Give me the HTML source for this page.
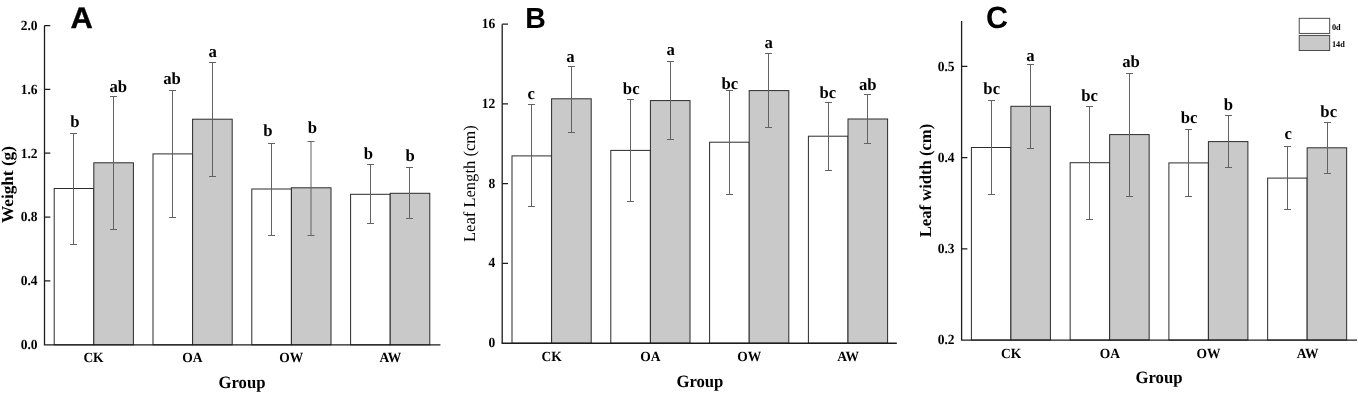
<!DOCTYPE html>
<html lang="en"><head><meta charset="utf-8"><title>Figure</title>
<style>html,body{margin:0;padding:0;background:#fff}svg{display:block;filter:grayscale(1)}text{text-rendering:geometricPrecision}.s{font-family:"Liberation Serif", "DejaVu Serif", serif}.a{font-family:"Liberation Sans", "DejaVu Sans", sans-serif}</style></head><body>
<svg width="1358" height="393" viewBox="0 0 1358 393">
<rect x="0" y="0" width="1358" height="393" fill="#ffffff"/>
<g>
<g id="panel-A">
<rect x="54.20" y="188.50" width="39.60" height="156.30" fill="#ffffff" stroke="#2b2b2b" stroke-width="1"/>
<rect x="93.80" y="162.80" width="39.60" height="182.00" fill="#c9c9c9" stroke="#2b2b2b" stroke-width="1"/>
<rect x="153.00" y="153.90" width="39.60" height="190.90" fill="#ffffff" stroke="#2b2b2b" stroke-width="1"/>
<rect x="192.60" y="119.20" width="39.60" height="225.60" fill="#c9c9c9" stroke="#2b2b2b" stroke-width="1"/>
<rect x="251.80" y="189.00" width="39.60" height="155.80" fill="#ffffff" stroke="#2b2b2b" stroke-width="1"/>
<rect x="291.40" y="187.80" width="39.60" height="157.00" fill="#c9c9c9" stroke="#2b2b2b" stroke-width="1"/>
<rect x="350.60" y="194.30" width="39.60" height="150.50" fill="#ffffff" stroke="#2b2b2b" stroke-width="1"/>
<rect x="390.20" y="193.30" width="39.60" height="151.50" fill="#c9c9c9" stroke="#2b2b2b" stroke-width="1"/>
<path d="M73.50 133.00V245.00M70.00 133.50h7M70.00 244.50h7" fill="none" stroke="#626262" stroke-width="1"/>
<path d="M113.50 96.00V230.00M110.00 96.50h7M110.00 229.50h7" fill="none" stroke="#626262" stroke-width="1"/>
<path d="M172.50 90.00V218.00M169.00 90.50h7M169.00 217.50h7" fill="none" stroke="#626262" stroke-width="1"/>
<path d="M212.50 62.00V177.00M209.00 62.50h7M209.00 176.50h7" fill="none" stroke="#626262" stroke-width="1"/>
<path d="M271.50 143.00V236.00M268.00 143.50h7M268.00 235.50h7" fill="none" stroke="#626262" stroke-width="1"/>
<path d="M311.00 141.00V236.00M307.50 141.50h7M307.50 235.50h7" fill="none" stroke="#626262" stroke-width="1"/>
<path d="M370.50 164.00V224.00M367.00 164.50h7M367.00 223.50h7" fill="none" stroke="#626262" stroke-width="1"/>
<path d="M409.50 167.00V219.00M406.00 167.50h7M406.00 218.50h7" fill="none" stroke="#626262" stroke-width="1"/>
<path d="M44.50 25.55V344.80" fill="none" stroke="#1c1c1c" stroke-width="1.3"/>
<path d="M43.85 344.80H440.40" fill="none" stroke="#1c1c1c" stroke-width="1.3"/>
<path d="M44.50 280.86h5.8M44.50 217.07h5.8M44.50 153.18h5.8M44.50 89.39h5.8M44.50 25.60h5.8" fill="none" stroke="#1c1c1c" stroke-width="1.25"/>
<text class="s" transform="translate(37.60 348.80) scale(1 1.04)" font-size="13.5" font-weight="bold" text-anchor="end" fill="#000">0.0</text>
<text class="s" transform="translate(37.60 285.10) scale(1 1.04)" font-size="13.5" font-weight="bold" text-anchor="end" fill="#000">0.4</text>
<text class="s" transform="translate(37.60 221.40) scale(1 1.04)" font-size="13.5" font-weight="bold" text-anchor="end" fill="#000">0.8</text>
<text class="s" transform="translate(37.60 157.60) scale(1 1.04)" font-size="13.5" font-weight="bold" text-anchor="end" fill="#000">1.2</text>
<text class="s" transform="translate(37.60 93.90) scale(1 1.04)" font-size="13.5" font-weight="bold" text-anchor="end" fill="#000">1.6</text>
<text class="s" transform="translate(37.60 30.20) scale(1 1.04)" font-size="13.5" font-weight="bold" text-anchor="end" fill="#000">2.0</text>
<text class="s" transform="translate(93.50 362.20) scale(1 1.04)" font-size="13.5" font-weight="bold" text-anchor="middle" fill="#000">CK</text>
<text class="s" transform="translate(192.40 362.20) scale(1 1.04)" font-size="13.5" font-weight="bold" text-anchor="middle" fill="#000">OA</text>
<text class="s" transform="translate(291.20 362.20) scale(1 1.04)" font-size="13.5" font-weight="bold" text-anchor="middle" fill="#000">OW</text>
<text class="s" transform="translate(390.30 362.20) scale(1 1.04)" font-size="13.5" font-weight="bold" text-anchor="middle" fill="#000">AW</text>
<text class="s" transform="translate(242.00 388.20) scale(1 1.04)" font-size="16.7" font-weight="bold" text-anchor="middle" fill="#000">Group</text>
<text class="s" transform="translate(13.20 184.50) scale(1 1.03) rotate(-90)" font-size="16.7" font-weight="bold" text-anchor="middle" fill="#000">Weight (g)</text>
<text class="s" transform="translate(75.00 127.20) scale(1 1.015)" font-size="16.7" font-weight="bold" text-anchor="middle" fill="#000">b</text>
<text class="s" transform="translate(118.20 91.60) scale(1 1.015)" font-size="16.7" font-weight="bold" text-anchor="middle" fill="#000">ab</text>
<text class="s" transform="translate(172.00 84.20) scale(1 1.015)" font-size="16.7" font-weight="bold" text-anchor="middle" fill="#000">ab</text>
<text class="s" transform="translate(212.60 56.70) scale(1 1.015)" font-size="16.7" font-weight="bold" text-anchor="middle" fill="#000">a</text>
<text class="s" transform="translate(267.80 136.00) scale(1 1.015)" font-size="16.7" font-weight="bold" text-anchor="middle" fill="#000">b</text>
<text class="s" transform="translate(312.30 133.00) scale(1 1.015)" font-size="16.7" font-weight="bold" text-anchor="middle" fill="#000">b</text>
<text class="s" transform="translate(368.50 159.20) scale(1 1.015)" font-size="16.7" font-weight="bold" text-anchor="middle" fill="#000">b</text>
<text class="s" transform="translate(410.20 160.90) scale(1 1.015)" font-size="16.7" font-weight="bold" text-anchor="middle" fill="#000">b</text>
<text class="a" transform="translate(81.60 28.20) scale(1.085 1.05)" font-size="28.5" font-weight="bold" text-anchor="middle" fill="#000" stroke="#000" stroke-width="0.35">A</text>
</g>
<g id="panel-B">
<rect x="512.00" y="155.90" width="39.60" height="187.35" fill="#ffffff" stroke="#2b2b2b" stroke-width="1"/>
<rect x="551.60" y="98.80" width="39.60" height="244.45" fill="#c9c9c9" stroke="#2b2b2b" stroke-width="1"/>
<rect x="610.80" y="150.40" width="39.60" height="192.85" fill="#ffffff" stroke="#2b2b2b" stroke-width="1"/>
<rect x="650.40" y="100.60" width="39.60" height="242.65" fill="#c9c9c9" stroke="#2b2b2b" stroke-width="1"/>
<rect x="709.60" y="142.20" width="39.60" height="201.05" fill="#ffffff" stroke="#2b2b2b" stroke-width="1"/>
<rect x="749.20" y="90.60" width="39.60" height="252.65" fill="#c9c9c9" stroke="#2b2b2b" stroke-width="1"/>
<rect x="808.40" y="136.20" width="39.60" height="207.05" fill="#ffffff" stroke="#2b2b2b" stroke-width="1"/>
<rect x="848.00" y="119.00" width="39.60" height="224.25" fill="#c9c9c9" stroke="#2b2b2b" stroke-width="1"/>
<path d="M531.50 104.00V207.00M528.00 104.50h7M528.00 206.50h7" fill="none" stroke="#626262" stroke-width="1"/>
<path d="M571.50 66.00V133.00M568.00 66.50h7M568.00 132.50h7" fill="none" stroke="#626262" stroke-width="1"/>
<path d="M630.50 99.00V202.00M627.00 99.50h7M627.00 201.50h7" fill="none" stroke="#626262" stroke-width="1"/>
<path d="M670.50 61.00V140.00M667.00 61.50h7M667.00 139.50h7" fill="none" stroke="#626262" stroke-width="1"/>
<path d="M729.50 90.00V195.00M726.00 90.50h7M726.00 194.50h7" fill="none" stroke="#626262" stroke-width="1"/>
<path d="M768.50 53.00V128.00M765.00 53.50h7M765.00 127.50h7" fill="none" stroke="#626262" stroke-width="1"/>
<path d="M828.50 102.00V171.00M825.00 102.50h7M825.00 170.50h7" fill="none" stroke="#626262" stroke-width="1"/>
<path d="M867.50 94.00V144.00M864.00 94.50h7M864.00 143.50h7" fill="none" stroke="#626262" stroke-width="1"/>
<path d="M502.20 24.15V343.25" fill="none" stroke="#1c1c1c" stroke-width="1.3"/>
<path d="M501.55 343.25H896.80" fill="none" stroke="#1c1c1c" stroke-width="1.3"/>
<path d="M502.20 263.30h5.8M502.20 183.60h5.8M502.20 103.90h5.8M502.20 24.20h5.8" fill="none" stroke="#1c1c1c" stroke-width="1.25"/>
<text class="s" transform="translate(495.30 347.10) scale(1 1.04)" font-size="13.5" font-weight="bold" text-anchor="end" fill="#000">0</text>
<text class="s" transform="translate(495.30 267.40) scale(1 1.04)" font-size="13.5" font-weight="bold" text-anchor="end" fill="#000">4</text>
<text class="s" transform="translate(495.30 187.70) scale(1 1.04)" font-size="13.5" font-weight="bold" text-anchor="end" fill="#000">8</text>
<text class="s" transform="translate(495.30 108.00) scale(1 1.04)" font-size="13.5" font-weight="bold" text-anchor="end" fill="#000">12</text>
<text class="s" transform="translate(495.30 28.30) scale(1 1.04)" font-size="13.5" font-weight="bold" text-anchor="end" fill="#000">16</text>
<text class="s" transform="translate(551.60 360.70) scale(1 1.04)" font-size="13.5" font-weight="bold" text-anchor="middle" fill="#000">CK</text>
<text class="s" transform="translate(650.40 360.70) scale(1 1.04)" font-size="13.5" font-weight="bold" text-anchor="middle" fill="#000">OA</text>
<text class="s" transform="translate(749.20 360.70) scale(1 1.04)" font-size="13.5" font-weight="bold" text-anchor="middle" fill="#000">OW</text>
<text class="s" transform="translate(848.00 360.70) scale(1 1.04)" font-size="13.5" font-weight="bold" text-anchor="middle" fill="#000">AW</text>
<text class="s" transform="translate(699.90 386.60) scale(1 1.04)" font-size="16.7" font-weight="bold" text-anchor="middle" fill="#000">Group</text>
<text class="s" transform="translate(474.50 183.70) scale(1 0.992) rotate(-90)" font-size="16.7" font-weight="normal" text-anchor="middle" fill="#000">Leaf Length (cm)</text>
<text class="s" transform="translate(531.20 99.10) scale(1 1.015)" font-size="16.7" font-weight="bold" text-anchor="middle" fill="#000">c</text>
<text class="s" transform="translate(570.40 61.50) scale(1 1.015)" font-size="16.7" font-weight="bold" text-anchor="middle" fill="#000">a</text>
<text class="s" transform="translate(631.20 94.10) scale(1 1.015)" font-size="16.7" font-weight="bold" text-anchor="middle" fill="#000">bc</text>
<text class="s" transform="translate(670.60 55.20) scale(1 1.015)" font-size="16.7" font-weight="bold" text-anchor="middle" fill="#000">a</text>
<text class="s" transform="translate(729.90 88.90) scale(1 1.015)" font-size="16.7" font-weight="bold" text-anchor="middle" fill="#000">bc</text>
<text class="s" transform="translate(768.60 48.00) scale(1 1.015)" font-size="16.7" font-weight="bold" text-anchor="middle" fill="#000">a</text>
<text class="s" transform="translate(827.80 97.90) scale(1 1.015)" font-size="16.7" font-weight="bold" text-anchor="middle" fill="#000">bc</text>
<text class="s" transform="translate(867.70 89.70) scale(1 1.015)" font-size="16.7" font-weight="bold" text-anchor="middle" fill="#000">ab</text>
<text class="a" transform="translate(535.60 28.00) scale(1 1.02)" font-size="28.5" font-weight="bold" text-anchor="middle" fill="#000">B</text>
</g>
<g id="panel-C">
<rect x="971.40" y="147.50" width="39.50" height="192.55" fill="#ffffff" stroke="#2b2b2b" stroke-width="1"/>
<rect x="1010.90" y="106.30" width="39.50" height="233.75" fill="#c9c9c9" stroke="#2b2b2b" stroke-width="1"/>
<rect x="1070.15" y="162.70" width="39.50" height="177.35" fill="#ffffff" stroke="#2b2b2b" stroke-width="1"/>
<rect x="1109.65" y="134.60" width="39.50" height="205.45" fill="#c9c9c9" stroke="#2b2b2b" stroke-width="1"/>
<rect x="1168.90" y="162.90" width="39.50" height="177.15" fill="#ffffff" stroke="#2b2b2b" stroke-width="1"/>
<rect x="1208.40" y="141.60" width="39.50" height="198.45" fill="#c9c9c9" stroke="#2b2b2b" stroke-width="1"/>
<rect x="1267.65" y="178.10" width="39.50" height="161.95" fill="#ffffff" stroke="#2b2b2b" stroke-width="1"/>
<rect x="1307.15" y="147.80" width="39.50" height="192.25" fill="#c9c9c9" stroke="#2b2b2b" stroke-width="1"/>
<path d="M991.50 100.00V195.00M988.00 100.50h7M988.00 194.50h7" fill="none" stroke="#626262" stroke-width="1"/>
<path d="M1030.50 64.00V149.00M1027.00 64.50h7M1027.00 148.50h7" fill="none" stroke="#626262" stroke-width="1"/>
<path d="M1089.50 106.00V220.00M1086.00 106.50h7M1086.00 219.50h7" fill="none" stroke="#626262" stroke-width="1"/>
<path d="M1129.50 73.00V197.00M1126.00 73.50h7M1126.00 196.50h7" fill="none" stroke="#626262" stroke-width="1"/>
<path d="M1188.50 129.00V197.00M1185.00 129.50h7M1185.00 196.50h7" fill="none" stroke="#626262" stroke-width="1"/>
<path d="M1228.50 115.00V168.00M1225.00 115.50h7M1225.00 167.50h7" fill="none" stroke="#626262" stroke-width="1"/>
<path d="M1287.50 146.00V210.00M1284.00 146.50h7M1284.00 209.50h7" fill="none" stroke="#626262" stroke-width="1"/>
<path d="M1327.50 122.00V174.00M1324.00 122.50h7M1324.00 173.50h7" fill="none" stroke="#626262" stroke-width="1"/>
<path d="M961.60 20.95V340.05" fill="none" stroke="#1c1c1c" stroke-width="1.3"/>
<path d="M960.95 340.05H1357.00" fill="none" stroke="#1c1c1c" stroke-width="1.3"/>
<path d="M961.60 248.80h5.8M961.60 157.65h5.8M961.60 66.40h5.8" fill="none" stroke="#1c1c1c" stroke-width="1.25"/>
<text class="s" transform="translate(954.50 344.20) scale(1 1.04)" font-size="13.5" font-weight="bold" text-anchor="end" fill="#000">0.2</text>
<text class="s" transform="translate(954.50 253.10) scale(1 1.04)" font-size="13.5" font-weight="bold" text-anchor="end" fill="#000">0.3</text>
<text class="s" transform="translate(954.50 162.10) scale(1 1.04)" font-size="13.5" font-weight="bold" text-anchor="end" fill="#000">0.4</text>
<text class="s" transform="translate(954.50 71.00) scale(1 1.04)" font-size="13.5" font-weight="bold" text-anchor="end" fill="#000">0.5</text>
<text class="s" transform="translate(1011.10 358.00) scale(1 1.04)" font-size="13.5" font-weight="bold" text-anchor="middle" fill="#000">CK</text>
<text class="s" transform="translate(1109.80 358.00) scale(1 1.04)" font-size="13.5" font-weight="bold" text-anchor="middle" fill="#000">OA</text>
<text class="s" transform="translate(1208.40 358.00) scale(1 1.04)" font-size="13.5" font-weight="bold" text-anchor="middle" fill="#000">OW</text>
<text class="s" transform="translate(1307.70 358.00) scale(1 1.04)" font-size="13.5" font-weight="bold" text-anchor="middle" fill="#000">AW</text>
<text class="s" transform="translate(1159.00 383.20) scale(1 1.04)" font-size="16.7" font-weight="bold" text-anchor="middle" fill="#000">Group</text>
<text class="s" transform="translate(930.70 180.50) scale(1 0.995) rotate(-90)" font-size="16.7" font-weight="bold" text-anchor="middle" fill="#000">Leaf width (cm)</text>
<text class="s" transform="translate(991.70 94.20) scale(1 1.015)" font-size="16.7" font-weight="bold" text-anchor="middle" fill="#000">bc</text>
<text class="s" transform="translate(1030.30 61.20) scale(1 1.015)" font-size="16.7" font-weight="bold" text-anchor="middle" fill="#000">a</text>
<text class="s" transform="translate(1089.60 100.90) scale(1 1.015)" font-size="16.7" font-weight="bold" text-anchor="middle" fill="#000">bc</text>
<text class="s" transform="translate(1131.00 66.50) scale(1 1.015)" font-size="16.7" font-weight="bold" text-anchor="middle" fill="#000">ab</text>
<text class="s" transform="translate(1189.00 123.40) scale(1 1.015)" font-size="16.7" font-weight="bold" text-anchor="middle" fill="#000">bc</text>
<text class="s" transform="translate(1228.30 109.60) scale(1 1.015)" font-size="16.7" font-weight="bold" text-anchor="middle" fill="#000">b</text>
<text class="s" transform="translate(1288.20 139.30) scale(1 1.015)" font-size="16.7" font-weight="bold" text-anchor="middle" fill="#000">c</text>
<text class="s" transform="translate(1328.70 117.10) scale(1 1.015)" font-size="16.7" font-weight="bold" text-anchor="middle" fill="#000">bc</text>
<text class="a" transform="translate(996.90 27.90) scale(1.07 1.08)" font-size="28.5" font-weight="bold" text-anchor="middle" fill="#000">C</text>
</g>
<g id="legend">
<rect x="1299.2" y="18.3" width="30.5" height="15.1" fill="#ffffff" stroke="#3a3a3a" stroke-width="0.9"/>
<rect x="1299.2" y="35.4" width="30.5" height="15.1" fill="#c9c9c9" stroke="#3a3a3a" stroke-width="0.9"/>
<text class="s" transform="translate(1331.90 30.00) scale(1 1.04)" font-size="8.3" font-weight="bold" text-anchor="start" fill="#000">0d</text>
<text class="s" transform="translate(1331.90 47.10) scale(1 1.04)" font-size="8.3" font-weight="bold" text-anchor="start" fill="#000">14d</text>
</g>
</g>
</svg></body></html>
